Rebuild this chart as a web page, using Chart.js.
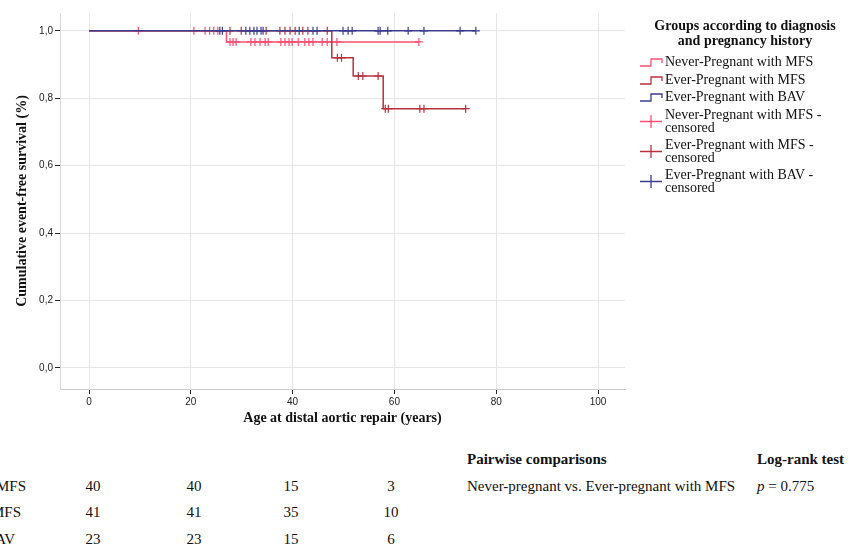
<!DOCTYPE html>
<html>
<head>
<meta charset="utf-8">
<script src="https://cdn.jsdelivr.net/npm/chart.js@4.4.0/dist/chart.umd.min.js"></script>
<style>
body{margin:0;background:#fff;width:848px;height:548px;overflow:hidden;position:relative;font-family:"Liberation Serif",serif;color:#111}
#wrap{position:absolute;left:0;top:0;width:640px;height:430px}
.t{position:absolute;white-space:nowrap;line-height:1}
.lg{font-size:14px}
.hd{font-weight:bold;font-size:14px;text-align:center;width:220px}
.tb{font-size:15px}
</style>
</head>
<body>
<div id="wrap"><canvas id="km" width="640" height="430"></canvas></div>
<div id="legend"></div>
<div id="table"></div>
<script>
// survival steps (age, survival after event)
const npTimes = [0, 27.0, 64.8];
const npSurv = [1, 0.967, 0.967];
const epTimes = [0, 47.7, 51.9, 57.8, 74.0];
const epSurv = [1, 0.920, 0.866, 0.769, 0.769];
const bavTimes = [0, 76.0];
const bavSurv = [1, 1];

// censored ages
const npCensored = [9.7, 20.6, 22.8, 23.7, 24.5, 25.3, 27.7, 28.3, 28.9, 31.8, 32.6, 33.6, 34.6, 35.2,
  37.7, 38.5, 39.3, 39.9, 41.1, 42.4, 43.2, 44.0, 45.8, 46.8, 48.7, 64.8];
const epCensored = [27.7, 29.9, 34.8, 37.5, 38.5, 39.5, 40.5, 42.0, 43.0, 46.8,
  48.8, 49.6, 52.9, 53.8, 56.8, 58.2, 58.8, 65.0, 65.8, 74.0];
const bavCensored = [25.7, 26.2, 30.8, 31.6, 32.4, 33.0, 33.8, 34.2, 41.3, 44.0, 44.8,
  49.9, 50.9, 51.7, 56.8, 57.2, 58.7, 62.7, 65.8, 72.9, 76.0];

const ageTicks = [0, 20, 40, 60, 80, 100];
const survTicks = [0, 0.2, 0.4, 0.6, 0.8, 1.0];

const groupNames = ["Never-Pregnant with MFS", "Ever-Pregnant with MFS", "Ever-Pregnant with BAV"];
const groupColors = ["#ff4f72", "#b8323e", "#3d3d8f"];

// numbers at risk
const riskLabels = ["MFS", "MFS", "BAV"];
const npRisk = [40, 40, 15, 3];
const epRisk = [41, 41, 35, 10];
const bavRisk = [23, 23, 15, 6];

const pairLabel = "Never-pregnant vs. Ever-pregnant with MFS";
const pValue = "0.775";

function survAt(times, surv, t) {
  let s = surv[0];
  for (let i = 0; i < times.length; i++) {
    if (times[i] <= t) s = surv[i];
  }
  return s;
}

function stepSet(times, surv, color) {
  return {
    data: times.map((t, i) => ({x: t, y: surv[i]})),
    showLine: true, stepped: 'before',
    borderColor: color, borderWidth: 1.5,
    pointRadius: 0, fill: false
  };
}

function censSet(ages, times, surv, color) {
  return {
    data: ages.map(a => ({x: a, y: survAt(times, surv, a)})),
    showLine: false, pointStyle: 'cross', pointRadius: 4,
    borderColor: color, borderWidth: 1.2
  };
}

const tickFont = {family: '"Liberation Sans Narrow","Liberation Sans",Arial,sans-serif', size: 10};
const titleFont = {family: '"Liberation Serif",serif', size: 14, weight: 'bold'};

new Chart(document.getElementById('km'), {
  type: 'scatter',
  data: {
    datasets: [
      censSet(bavCensored, bavTimes, bavSurv, groupColors[2]),
      stepSet(bavTimes, bavSurv, groupColors[2]),
      censSet(epCensored, epTimes, epSurv, groupColors[1]),
      stepSet(epTimes, epSurv, groupColors[1]),
      censSet(npCensored, npTimes, npSurv, groupColors[0]),
      stepSet(npTimes, npSurv, groupColors[0])
    ]
  },
  options: {
    responsive: false,
    devicePixelRatio: 1,
    animation: false,
    layout: {padding: {left: 10, top: 13, right: 15, bottom: 0}},
    plugins: {legend: {display: false}, tooltip: {enabled: false}},
    scales: {
      x: {
        type: 'linear', min: -5.7, max: 105.3,
        afterBuildTicks: s => { s.ticks = ageTicks.map(v => ({value: v})); },
        afterFit: s => { s.height = 41; },
        ticks: {font: tickFont, color: '#222', padding: 2, maxRotation: 0},
        grid: {color: '#e6e6e6', tickColor: '#222', tickLength: 5},
        border: {color: '#c8c8c8'},
        title: {display: true, text: 'Age at distal aortic repair (years)', font: titleFont, color: '#111', padding: {top: 4, bottom: 3}}
      },
      y: {
        type: 'linear', min: -0.063, max: 1.053,
        afterBuildTicks: s => { s.ticks = survTicks.map(v => ({value: v})); },
        afterFit: s => { s.width = 50; },
        ticks: {font: tickFont, color: '#222', padding: 2, callback: v => v.toFixed(1).replace('.', ',')},
        grid: {color: '#e6e6e6', tickColor: '#222', tickLength: 5},
        border: {color: '#d8d8d8'},
        title: {display: true, text: 'Cumulative event-free survival (%)', font: titleFont, color: '#111', padding: {top: 4, bottom: 4}}
      }
    }
  }
});

// legend
const lg = document.getElementById('legend');
let html = '';
html += '<div class="t hd" style="left:635px;top:19px">Groups according to diagnosis</div>';
html += '<div class="t hd" style="left:635px;top:34px">and pregnancy history</div>';
const rowY = [62, 80, 97];
groupNames.forEach((n, i) => {
  const y = rowY[i];
  html += '<svg class="t" style="left:639px;top:' + (y - 6) + 'px" width="25" height="12"><polyline points="1,10 12,10 12,3 23,3 23,7" fill="none" stroke="' + groupColors[i] + '" stroke-width="1.3"/></svg>';
  html += '<div class="t lg" style="left:665px;top:' + (y - 7) + 'px">' + n + '</div>';
});
const cRowY = [115, 145, 175];
groupNames.forEach((n, i) => {
  const y = cRowY[i];
  html += '<svg class="t" style="left:639px;top:' + (y - 1) + 'px" width="25" height="16"><path d="M1 7.5H23M12 1V14" fill="none" stroke="' + groupColors[i] + '" stroke-width="1.3"/></svg>';
  html += '<div class="t lg" style="left:665px;top:' + (y - 7) + 'px">' + n + ' -</div>';
  html += '<div class="t lg" style="left:665px;top:' + (y + 6) + 'px">censored</div>';
});
lg.innerHTML = html;

// at-risk table and log-rank
const tb = document.getElementById('table');
const riskRows = [npRisk, epRisk, bavRisk];
const colX = [93, 194, 291, 391];
const tableY = [487, 513, 540];
const labelShift = [1, -4, -10];
let th = '';
riskRows.forEach((r, i) => {
  th += '<div class="t tb" style="right:' + (823 - labelShift[i]) + 'px;top:' + (tableY[i] - 8) + 'px">' + riskLabels[i] + '</div>';
  r.forEach((v, j) => {
    th += '<div class="t tb" style="left:' + (colX[j] - 20) + 'px;width:40px;text-align:center;top:' + (tableY[i] - 8) + 'px">' + v + '</div>';
  });
});
th += '<div class="t tb" style="left:467px;top:452px;font-weight:bold">Pairwise comparisons</div>';
th += '<div class="t tb" style="left:757px;top:452px;font-weight:bold">Log-rank test</div>';
th += '<div class="t tb" style="left:467px;top:479px">' + pairLabel + '</div>';
th += '<div class="t tb" style="left:757px;top:479px"><i>p</i> = ' + pValue + '</div>';
tb.innerHTML = th;
</script>
</body>
</html>
